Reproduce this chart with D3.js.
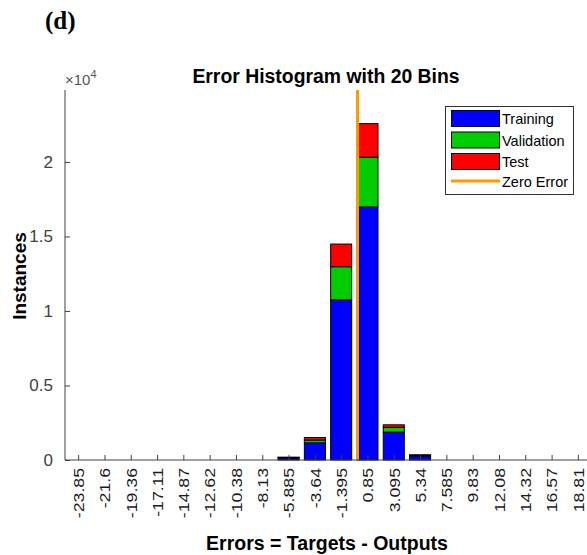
<!DOCTYPE html>
<html><head><meta charset="utf-8">
<script src="https://cdn.jsdelivr.net/npm/d3@7/dist/d3.min.js"></script>
<style>
html,body{margin:0;padding:0;background:#fff;}
svg{display:block;}
</style></head>
<body>
<script>
const binCenters = [-23.85, -21.6, -19.36, -17.11, -14.87, -12.62, -10.38, -8.13, -5.885, -3.64, -1.395, 0.85, 3.095, 5.34, 7.585, 9.83, 12.08, 14.32, 16.57, 18.81];
const binLabels = ["-23.85","-21.6","-19.36","-17.11","-14.87","-12.62","-10.38","-8.13","-5.885","-3.64","-1.395","0.85","3.095","5.34","7.585","9.83","12.08","14.32","16.57","18.81"];
const training   = [0,0,0,0,0,0,0,0,140,1150,10740,16980,1870,260,0,0,0,0,0,0];
const validation = [0,0,0,0,0,0,0,0,30,190,2230,3340,320,50,0,0,0,0,0,0];
const test       = [0,0,0,0,0,0,0,0,20,170,1520,2250,170,40,0,0,0,0,0,0];
const seriesNames = ["Training","Validation","Test"];
const seriesColors = ["#0000ff","#00cc00","#ff0000"];
const yTicks = [0,5000,10000,15000,20000];
const yTickLabels = ["0","0.5","1","1.5","2"];
const binWidth = 2.245;

(function(){
const W=587,H=555;
const svg=d3.select("body").append("svg").attr("width",W).attr("height",H);
const pL=65,pR=591,pT=90,pB=460;
const totals = binCenters.map((c,i)=>training[i]+validation[i]+test[i]);
const yMax = d3.max(totals)*1.1;
const x=d3.scaleLinear().domain([binCenters[0]-binWidth/2, binCenters[binCenters.length-1]+binWidth/2]).range([pL,pR]);
const y=d3.scaleLinear().domain([0,yMax]).range([pB,pT]);
const axisCol="#404040";
const sans="'Liberation Sans',Arial,sans-serif";

// bars
const stackData = binCenters.map((c,i)=>({c, Training:training[i], Validation:validation[i], Test:test[i]}));
const stack = d3.stack().keys(seriesNames)(stackData);
const bw = (x(binWidth)-x(0))*0.8;
stack.forEach((layer,k)=>{
  svg.append("g").selectAll("rect").data(layer.filter(d=>d[1]-d[0]>0)).join("rect")
    .attr("x",d=>x(d.data.c)-bw/2).attr("width",bw)
    .attr("y",d=>y(d[1])).attr("height",d=>y(d[0])-y(d[1]))
    .attr("fill",seriesColors[k]).attr("stroke","#000").attr("stroke-width",1);
});

// zero line
svg.append("line").attr("x1",x(0)).attr("x2",x(0)).attr("y1",pT).attr("y2",pB)
  .attr("stroke","#ff9900").attr("stroke-width",3);

// axes
const yAxis = d3.axisLeft(y).tickValues(yTicks).tickFormat((d,i)=>yTickLabels[i]).tickSizeInner(-5).tickSizeOuter(0).tickPadding(12);
const gy = svg.append("g").attr("transform",`translate(${pL},0)`).call(yAxis);
gy.select(".domain").attr("d",`M0,${pT}V${pB}`);
gy.selectAll("line").attr("stroke",axisCol);
gy.select(".domain").attr("stroke",axisCol);
gy.selectAll("text").attr("fill",axisCol).style("font-family",sans).style("font-size","17px");

const xAxis = d3.axisBottom(x).tickValues(binCenters).tickFormat((d,i)=>binLabels[i]).tickSizeInner(-5).tickSizeOuter(0);
const gx = svg.append("g").attr("transform",`translate(0,${pB})`).call(xAxis);
gx.select(".domain").attr("stroke",axisCol).attr("d",`M${pL},0H${pR}`);
gx.selectAll("line").attr("stroke",axisCol);
gx.selectAll("text").attr("fill","#1a1a1a").style("font-family",sans).style("font-size","15px")
  .attr("text-anchor","end").attr("dy","0.35em").attr("y",0)
  .attr("transform","translate(0,8) rotate(-90) scale(1.18,1)");

// exponent
const ex = svg.append("text").attr("x",65).attr("y",85).attr("fill","#555").style("font-family",sans).style("font-size","15px");
ex.append("tspan").text("×10");
ex.append("tspan").attr("dy",-7).style("font-size","11px").text("4");

// titles
svg.append("text").attr("x",326).attr("y",83).attr("text-anchor","middle")
  .style("font-family",sans).style("font-weight","bold").style("font-size","19.4px").attr("fill","#000")
  .text("Error Histogram with 20 Bins");
svg.append("text").attr("x",327).attr("y",550).attr("text-anchor","middle")
  .style("font-family",sans).style("font-weight","bold").style("font-size","19.5px").attr("fill","#000")
  .text("Errors = Targets - Outputs");
svg.append("text").attr("transform","translate(26,276) rotate(-90)").attr("text-anchor","middle")
  .style("font-family",sans).style("font-weight","bold").style("font-size","19px").attr("fill","#000")
  .text("Instances");
svg.append("text").attr("x",45).attr("y",29)
  .style("font-family","'Liberation Serif','Times New Roman',serif").style("font-weight","bold").style("font-size","25px").attr("fill","#000")
  .text("(d)");

// legend
const lg = svg.append("g");
lg.append("rect").attr("x",445.5).attr("y",106.5).attr("width",128).attr("height",88).attr("fill","#fff").attr("stroke","#333").attr("stroke-width",1);
seriesNames.forEach((n,i)=>{
  const yy = 110.5 + i*21.5;
  lg.append("rect").attr("x",451.5).attr("y",yy).attr("width",48).attr("height",16).attr("fill",seriesColors[i]).attr("stroke","#000");
  lg.append("text").attr("x",502).attr("y",yy+8.5).attr("dy","0.35em").style("font-family",sans).style("font-size","14.5px").attr("fill","#000").text(n);
});
lg.append("line").attr("x1",451).attr("x2",500).attr("y1",181).attr("y2",181).attr("stroke","#ff9900").attr("stroke-width",3);
lg.append("text").attr("x",502).attr("y",182).attr("dy","0.35em").style("font-family",sans).style("font-size","14.5px").attr("fill","#000").text("Zero Error");
})();
</script>
</body></html>
